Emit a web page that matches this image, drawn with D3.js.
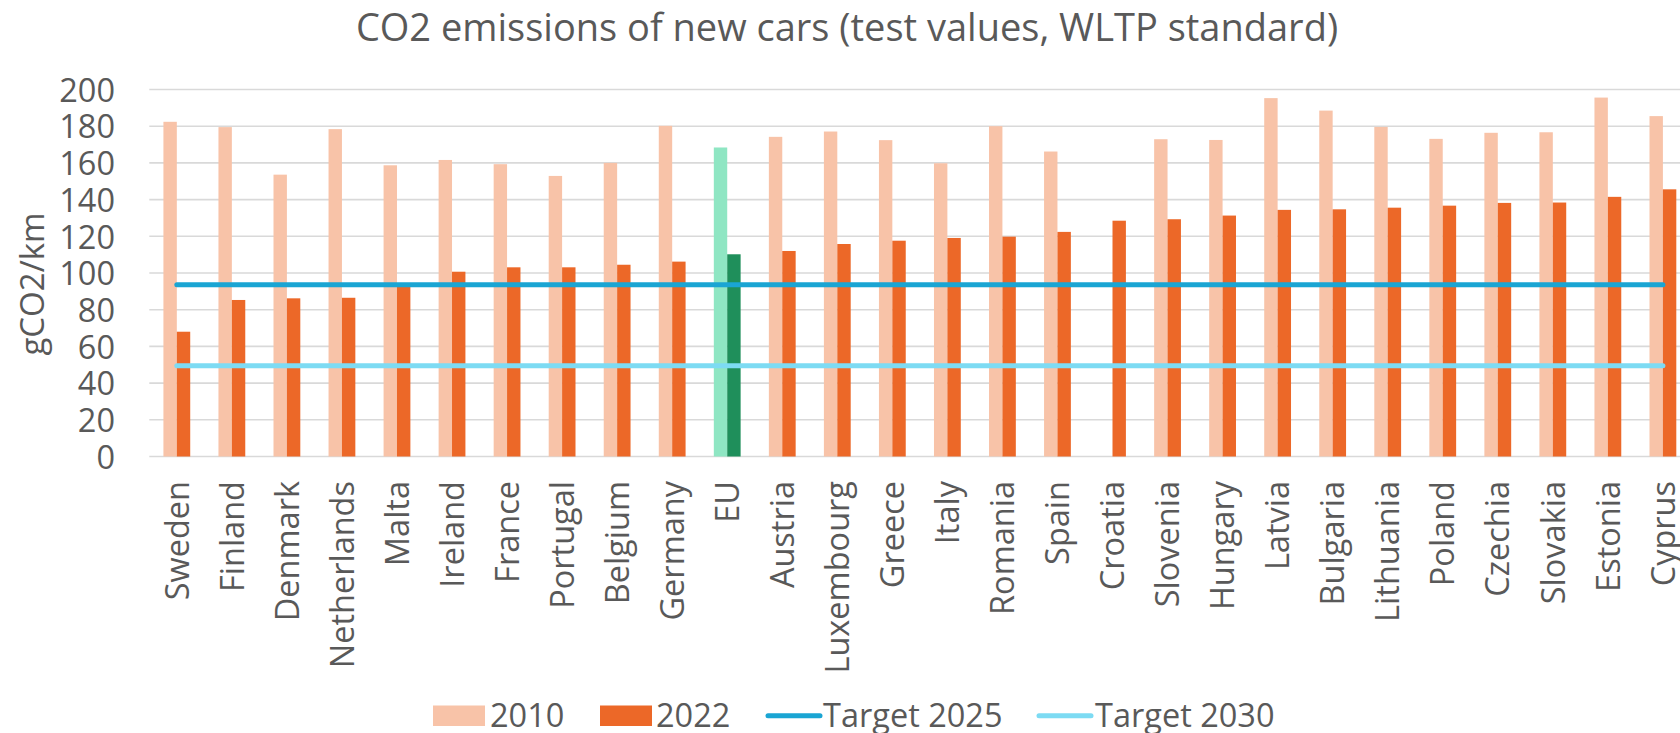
<!DOCTYPE html>
<html>
<head>
<meta charset="utf-8">
<script src="https://cdn.jsdelivr.net/npm/d3@7"></script>
<style>
  html, body { margin: 0; padding: 0; background: #fff; }
  svg { display: block; font-family: "Open Sans", sans-serif; }
</style>
</head>
<body>
<svg id="chart" width="1680" height="733"></svg>
<script>
const categories = ["Sweden","Finland","Denmark","Netherlands","Malta","Ireland","France","Portugal","Belgium","Germany","EU","Austria","Luxembourg","Greece","Italy","Romania","Spain","Croatia","Slovenia","Hungary","Latvia","Bulgaria","Lithuania","Poland","Czechia","Slovakia","Estonia","Cyprus"];
const values2010 = [182.4,179.5,153.6,178.4,158.7,161.6,159.3,152.9,160.0,180.2,168.4,174.2,177.1,172.4,159.8,180.0,166.2,null,172.9,172.5,195.3,188.5,179.6,173.1,176.4,176.7,195.6,185.5];
const values2022 = [68.0,85.3,86.2,86.5,93.0,100.7,103.1,103.1,104.5,106.2,110.2,112.0,115.8,117.6,119.1,119.8,122.4,128.5,129.3,131.3,134.4,134.7,135.6,136.7,138.2,138.4,141.5,145.6];
const target2025 = 93.6;
const target2030 = 49.5;
const yTicks = [0,20,40,60,80,100,120,140,160,180,200];
const seriesNames = ["2010","2022","Target 2025","Target 2030"];

const colors = {
  "2010": "#F8C3A8",
  "2022": "#EC6828",
  "EU2010": "#8FE6C3",
  "EU2022": "#1F8F5B",
  "Target 2025": "#1AA5D3",
  "Target 2030": "#7DDBF3",
  grid: "#D9D9D9",
  text: "#595959"
};
const labelSize = "32.5px";

const svg = d3.select("#chart");
const plotLeft = 149.3, step = 55.04;
const x = d3.scaleBand().domain(categories).range([plotLeft, plotLeft + step * categories.length]).paddingInner(0).paddingOuter(0);
const barW = 13.4;
const x1 = d3.scaleBand().domain(["2010","2022"]).range([x.bandwidth()/2 - barW, x.bandwidth()/2 + barW]);
const y = d3.scaleLinear().domain([0, 200]).range([456.5, 89.5]);

// gridlines
svg.append("g").selectAll("line").data(yTicks).join("line")
  .attr("x1", plotLeft).attr("x2", 1700)
  .attr("y1", d => y(d)).attr("y2", d => y(d))
  .attr("stroke", colors.grid).attr("stroke-width", 1.6);

// y axis labels
const yAxis = d3.axisLeft(y).tickValues(yTicks).tickSize(0).tickPadding(0);
const yg = svg.append("g").attr("transform", "translate(115,0)").call(yAxis);
yg.select(".domain").remove();
yg.selectAll("text").attr("fill", colors.text).style("font-size", labelSize).style("font-family", "Open Sans").attr("dy", "0.36em");

// bars
const data = categories.map((c, i) => ({c, v2010: values2010[i], v2022: values2022[i]}));
const gBars = svg.append("g");
data.forEach(d => {
  const isEU = d.c === "EU";
  if (d.v2010 != null) {
    gBars.append("rect")
      .attr("x", x(d.c) + x1("2010")).attr("width", x1.bandwidth())
      .attr("y", y(d.v2010)).attr("height", y(0) - y(d.v2010))
      .attr("fill", isEU ? colors.EU2010 : colors["2010"]);
  }
  if (d.v2022 != null) {
    gBars.append("rect")
      .attr("x", x(d.c) + x1("2022")).attr("width", x1.bandwidth())
      .attr("y", y(d.v2022)).attr("height", y(0) - y(d.v2022))
      .attr("fill", isEU ? colors.EU2022 : colors["2022"]);
  }
});

// target lines
const cx = c => x(c) + x.bandwidth()/2;
const lineGen = d3.line().x(d => cx(d.c)).y(d => y(d.v));
[["Target 2025", target2025], ["Target 2030", target2030]].forEach(([name, val]) => {
  svg.append("path")
    .datum(categories.map(c => ({c, v: val})))
    .attr("d", lineGen)
    .attr("fill", "none")
    .attr("stroke", colors[name])
    .attr("stroke-width", 5)
    .attr("stroke-linecap", "round");
});

// x labels
const xAxis = d3.axisBottom(x).tickSize(0).tickPadding(0);
const xg = svg.append("g").attr("transform", "translate(0,481)").call(xAxis);
xg.select(".domain").remove();
xg.selectAll("text")
  .attr("fill", colors.text).style("font-size", labelSize).style("font-family", "Open Sans")
  .attr("text-anchor", "end")
  .attr("transform", "rotate(-90)")
  .attr("x", 0).attr("y", 0).attr("dy", "0.36em");

// title
svg.append("text").attr("x", 847).attr("y", 41).attr("text-anchor", "middle")
  .attr("fill", colors.text).style("font-size", "38px")
  .text("CO2 emissions of new cars (test values, WLTP standard)");

// y axis title
svg.append("text").attr("transform", "translate(32,284) rotate(-90)")
  .attr("text-anchor", "middle").attr("dy", "0.36em")
  .attr("fill", colors.text).style("font-size", "33px")
  .text("gCO2/km");

// legend
const legend = svg.append("g");
const legendItems = [
  {name: seriesNames[0], type: "rect", x0: 433, tx: 490},
  {name: seriesNames[1], type: "rect", x0: 600, tx: 656},
  {name: seriesNames[2], type: "line", x0: 766, tx: 823},
  {name: seriesNames[3], type: "line", x0: 1037, tx: 1095}
];
legendItems.forEach(it => {
  if (it.type === "rect") {
    legend.append("rect").attr("x", it.x0).attr("y", 705.5).attr("width", 52).attr("height", 20.5).attr("fill", colors[it.name]);
  } else {
    legend.append("line").attr("x1", it.x0 + 2).attr("x2", it.x0 + 54).attr("y1", 715.8).attr("y2", 715.8)
      .attr("stroke", colors[it.name]).attr("stroke-width", 5).attr("stroke-linecap", "round");
  }
  legend.append("text").attr("x", it.tx).attr("y", 727).attr("fill", colors.text).style("font-size", labelSize).text(it.name);
});
</script>
</body>
</html>
